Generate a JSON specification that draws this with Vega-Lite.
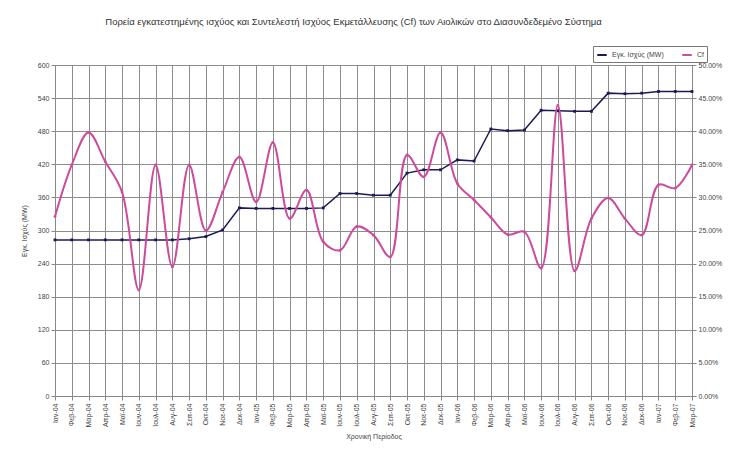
{
  "$schema": "https://vega.github.io/schema/vega-lite/v6.json",
  "autosize": {"type": "none"},
  "width": 637,
  "height": 331,
  "padding": {"left": 55, "top": 65, "right": 41, "bottom": 59},
  "background": "white",
  "title": {
    "text": "Πορεία εγκατεστημένης ισχύος και Συντελεστή Ισχύος Εκμετάλλευσης (Cf) των Αιολικών στο Διασυνδεδεμένο Σύστημα",
    "fontSize": 9.5,
    "font": "Liberation Sans",
    "fontWeight": "normal",
    "color": "#333",
    "anchor": "middle",
    "dx": -20,
    "offset": 19
  },
  "config": {
    "font": "Liberation Sans",
    "view": {"stroke": "#888", "strokeWidth": 1},
    "axis": {
      "gridColor": "#8c8c8c",
      "gridOpacity": 1,
      "gridWidth": 1,
      "domainColor": "#888",
      "tickColor": "#888",
      "labelColor": "#444",
      "titleColor": "#444",
      "labelFontSize": 7,
      "titleFontSize": 7,
      "titleFontWeight": "normal"
    },
    "axisX": {"grid": true},
    "axisBand": {"grid": true},
    "axisPoint": {"grid": true}
  },
  "data": {
    "values": [
      {"month": "Ιαν-04", "mw": 283, "cf": 0.271},
      {"month": "Φεβ-04", "mw": 283, "cf": 0.349},
      {"month": "Μαρ-04", "mw": 283, "cf": 0.398},
      {"month": "Απρ-04", "mw": 283, "cf": 0.354},
      {"month": "Μαϊ-04", "mw": 283, "cf": 0.308},
      {"month": "Ιουν-04", "mw": 283, "cf": 0.160},
      {"month": "Ιουλ-04", "mw": 283, "cf": 0.349},
      {"month": "Αυγ-04", "mw": 283, "cf": 0.195},
      {"month": "Σεπ-04", "mw": 285, "cf": 0.349},
      {"month": "Οκτ-04", "mw": 289, "cf": 0.250},
      {"month": "Νοε-04", "mw": 301, "cf": 0.308},
      {"month": "Δεκ-04", "mw": 341, "cf": 0.361},
      {"month": "Ιαν-05", "mw": 340, "cf": 0.293},
      {"month": "Φεβ-05", "mw": 340, "cf": 0.383},
      {"month": "Μαρ-05", "mw": 340, "cf": 0.268},
      {"month": "Απρ-05", "mw": 340, "cf": 0.311},
      {"month": "Μαϊ-05", "mw": 341, "cf": 0.233},
      {"month": "Ιουν-05", "mw": 367, "cf": 0.220},
      {"month": "Ιουλ-05", "mw": 367, "cf": 0.256},
      {"month": "Αυγ-05", "mw": 364, "cf": 0.243},
      {"month": "Σεπ-05", "mw": 364, "cf": 0.210},
      {"month": "Οκτ-05", "mw": 404, "cf": 0.364},
      {"month": "Νοε-05", "mw": 410, "cf": 0.331},
      {"month": "Δεκ-05", "mw": 410, "cf": 0.398},
      {"month": "Ιαν-06", "mw": 428, "cf": 0.321},
      {"month": "Φεβ-06", "mw": 426, "cf": 0.296},
      {"month": "Μαρ-06", "mw": 484, "cf": 0.270},
      {"month": "Απρ-06", "mw": 481, "cf": 0.244},
      {"month": "Μαϊ-06", "mw": 482, "cf": 0.248},
      {"month": "Ιουν-06", "mw": 518, "cf": 0.193},
      {"month": "Ιουλ-06", "mw": 517, "cf": 0.439},
      {"month": "Αυγ-06", "mw": 516, "cf": 0.189},
      {"month": "Σεπ-06", "mw": 516, "cf": 0.268},
      {"month": "Οκτ-06", "mw": 549, "cf": 0.299},
      {"month": "Νοε-06", "mw": 548, "cf": 0.268},
      {"month": "Δεκ-06", "mw": 549, "cf": 0.243},
      {"month": "Ιαν-07", "mw": 552, "cf": 0.319},
      {"month": "Φεβ-07", "mw": 552, "cf": 0.314},
      {"month": "Μαρ-07", "mw": 552, "cf": 0.349}
    ]
  },
  "layer": [
    {
      "mark": {"type": "line", "strokeWidth": 1.5, "point": {"filled": true, "size": 8, "shape": "square", "color": "#1c1a55"}},
      "encoding": {
        "x": {
          "field": "month",
          "type": "ordinal",
          "sort": null,
          "scale": {"type": "point", "padding": 0},
          "axis": {
            "title": "Χρονική Περίοδος",
            "labelAngle": -90,
            "grid": true,
            "gridColor": "#8c8c8c",
            "tickSize": 4,
            "labelPadding": 3,
            "titlePadding": 6
          }
        },
        "y": {
          "field": "mw",
          "type": "quantitative",
          "scale": {"domain": [0, 600]},
          "axis": {
            "title": "Εγκ. Ισχύς (MW)",
            "values": [0, 60, 120, 180, 240, 300, 360, 420, 480, 540, 600],
            "grid": true,
            "tickSize": 4,
            "titlePadding": 10
          }
        },
        "color": {
          "datum": "Εγκ. Ισχύς (MW)",
          "scale": {"domain": ["Εγκ. Ισχύς (MW)", "Cf"], "range": ["#1c1a55", "#cc4b9b"]},
          "legend": {
            "title": null,
            "orient": "none",
            "direction": "horizontal",
            "legendX": 538,
            "legendY": -19,
            "strokeColor": "#777",
            "padding": 3,
            "labelFontSize": 7,
            "labelColor": "#444",
            "symbolType": "stroke",
            "symbolSize": 90,
            "symbolStrokeWidth": 2,
            "columnPadding": 14
          }
        }
      }
    },
    {
      "mark": {"type": "line", "strokeWidth": 2, "interpolate": "catmull-rom", "point": {"filled": true, "size": 8, "color": "#e9a3cf"}},
      "encoding": {
        "x": {
          "field": "month",
          "type": "ordinal",
          "sort": null,
          "scale": {"type": "point", "padding": 0}
        },
        "y": {
          "field": "cf",
          "type": "quantitative",
          "scale": {"domain": [0, 0.5]},
          "axis": {
            "title": null,
            "orient": "right",
            "format": ".2%",
            "values": [0, 0.05, 0.1, 0.15, 0.2, 0.25, 0.3, 0.35, 0.4, 0.45, 0.5],
            "grid": false,
            "tickSize": 4
          }
        },
        "color": {"datum": "Cf"}
      }
    }
  ],
  "resolve": {"scale": {"y": "independent"}}
}
